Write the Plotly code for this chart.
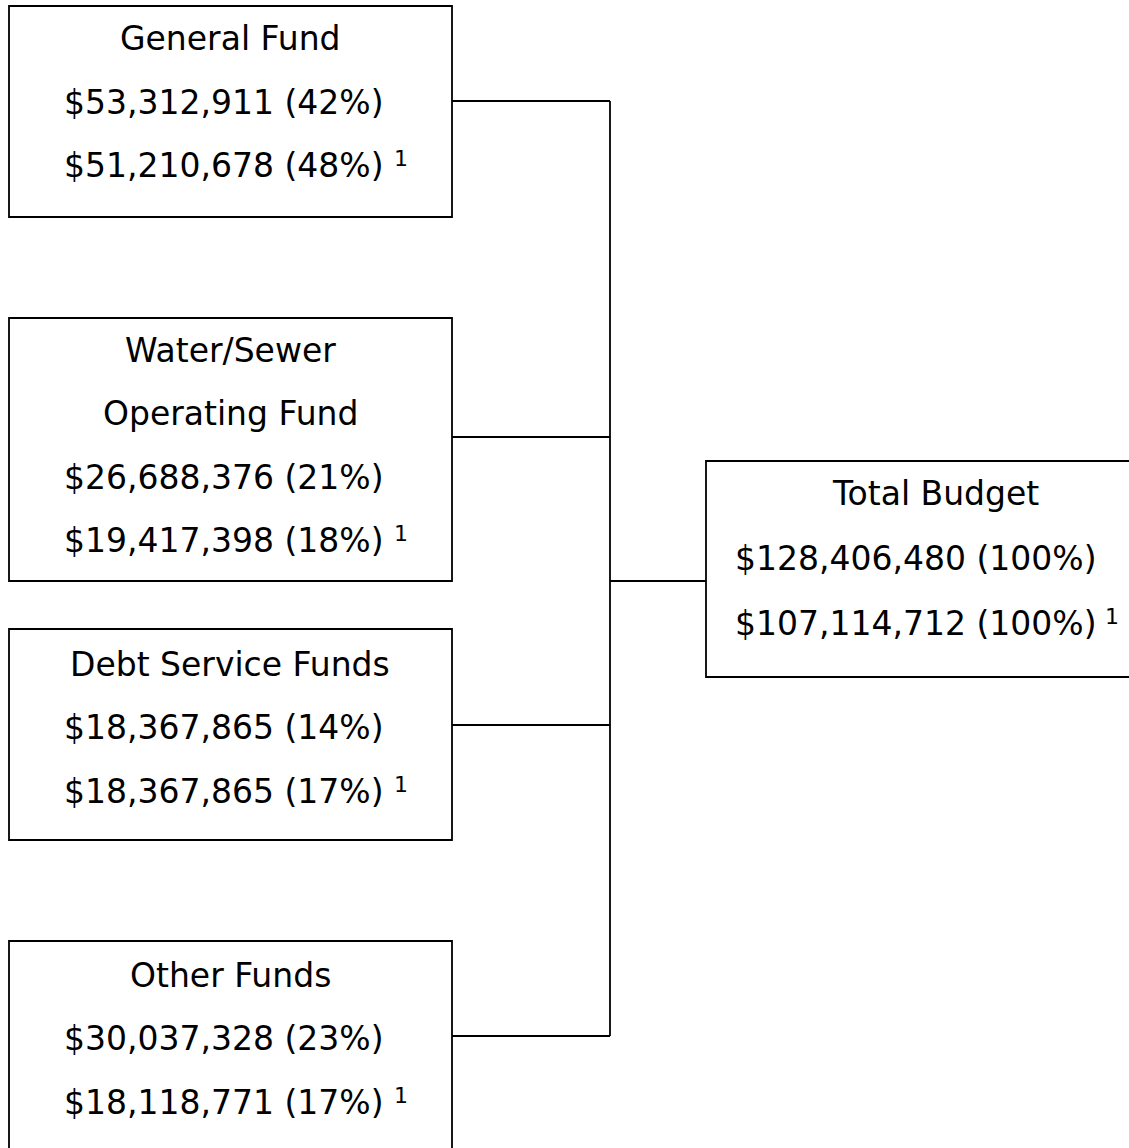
import plotly.graph_objects as go

# ---------------- data ----------------
fund_titles = [["General Fund"], ["Water/Sewer", "Operating Fund"], ["Debt Service Funds"], ["Other Funds"]]
budget_amounts = [53312911, 26688376, 18367865, 30037328]
budget_pcts = [42, 21, 14, 23]
alt_amounts = [51210678, 19417398, 18367865, 18118771]
alt_pcts = [48, 18, 17, 17]
total_title = ["Total Budget"]
total_amount = 128406480
total_pct = 100
total_alt_amount = 107114712
total_alt_pct = 100
footnote_mark = "1"

# ---------------- layout geometry (page pixels) ----------------
W, H = 1129, 1148
box_x0, box_x1 = 9, 452
box_y = [(6, 217), (318, 581), (629, 840), (941, 1165)]
connector_y = [101, 437, 725, 1036]
trunk_x = 610
total_box = (706, 461, 1145, 677)
total_conn_y = 581
first_line_y = [38.5, 350, 664, 975]
line_gap = 63.5
total_first_line_y = 493
total_line_gap = 65
title_cx = 230
value_x = 62
total_title_cx = 935
total_value_x = 733
sup_x = 392
total_sup_x = 1103
sup_dy = -7

FONT = "DejaVu Sans, Liberation Sans, Arial, sans-serif"
FS = 33
SUP_FS = 22
LW = 1.8
COL = "#000000"


def money(v, p):
    return "${:,} ({}%)".format(v, p)


fig = go.Figure()
fig.add_trace(go.Scatter(x=[0, W], y=[0, H], mode="markers", marker=dict(opacity=0),
                         hoverinfo="skip", showlegend=False))

shapes = []
annotations = []


def ann(x, y, text, xanchor, size=FS):
    annotations.append(dict(x=x, y=y, xref="x", yref="y", text=text, showarrow=False,
                            xanchor=xanchor, yanchor="middle",
                            font=dict(family=FONT, size=size, color=COL)))


for i in range(len(fund_titles)):
    y0, y1 = box_y[i]
    shapes.append(dict(type="rect", xref="x", yref="y", x0=box_x0, x1=box_x1, y0=y0, y1=y1,
                       line=dict(color=COL, width=LW), fillcolor="rgba(0,0,0,0)"))
    shapes.append(dict(type="line", xref="x", yref="y", x0=box_x1, x1=trunk_x,
                       y0=connector_y[i], y1=connector_y[i], line=dict(color=COL, width=LW)))
    yy = first_line_y[i]
    for t in fund_titles[i]:
        ann(title_cx, yy, t, "center")
        yy += line_gap
    ann(value_x, yy, money(budget_amounts[i], budget_pcts[i]), "left")
    yy += line_gap
    ann(value_x, yy, money(alt_amounts[i], alt_pcts[i]), "left")
    ann(sup_x, yy + sup_dy, footnote_mark, "left", SUP_FS)

# trunk
shapes.append(dict(type="line", xref="x", yref="y", x0=trunk_x, x1=trunk_x,
                   y0=connector_y[0], y1=connector_y[-1], line=dict(color=COL, width=LW)))
# connector to total
shapes.append(dict(type="line", xref="x", yref="y", x0=trunk_x, x1=total_box[0],
                   y0=total_conn_y, y1=total_conn_y, line=dict(color=COL, width=LW)))
# total box
shapes.append(dict(type="rect", xref="x", yref="y", x0=total_box[0], y0=total_box[1],
                   x1=total_box[2], y1=total_box[3],
                   line=dict(color=COL, width=LW), fillcolor="rgba(0,0,0,0)"))
yy = total_first_line_y
for t in total_title:
    ann(total_title_cx, yy, t, "center")
    yy += total_line_gap
ann(total_value_x, yy, money(total_amount, total_pct), "left")
yy += total_line_gap
ann(total_value_x, yy, money(total_alt_amount, total_alt_pct), "left")
ann(total_sup_x, yy + sup_dy, footnote_mark, "left", SUP_FS)

fig.update_layout(
    width=W, height=H,
    margin=dict(l=0, r=0, t=0, b=0),
    paper_bgcolor="white", plot_bgcolor="white",
    xaxis=dict(range=[0, W], visible=False, fixedrange=True),
    yaxis=dict(range=[H, 0], visible=False, fixedrange=True),
    shapes=shapes,
    annotations=annotations,
    showlegend=False,
)

fig.write_html(
    "out.html",
    config={"displayModeBar": False},
    post_script="document.body.style.margin='0px';document.body.style.overflow='hidden';",
)
